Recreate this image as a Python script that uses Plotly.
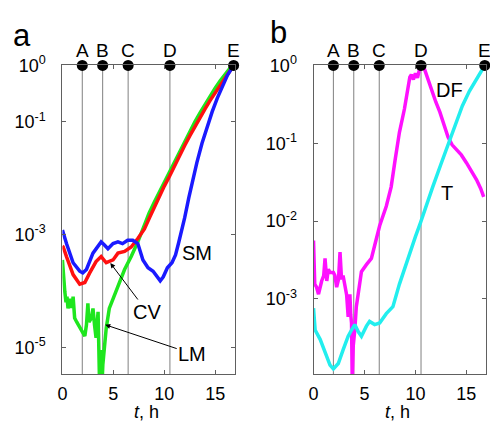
import numpy as np
import plotly.graph_objects as go

# ---- event markers ----
events = ["A", "B", "C", "D", "E"]
event_t = [1.95, 3.95, 6.45, 10.55, 16.8]

# ---- panel a (log10 of normalised signal) ----
sm_t = [0.0, 0.08, 0.4, 1.05, 1.7, 2.0, 2.36, 3.0, 3.5, 3.8, 4.1, 4.47, 4.97, 5.45, 5.9, 6.4, 6.9,
        7.4, 7.9, 8.4, 8.9, 9.2, 9.6, 9.9, 10.3, 10.75, 11.1, 11.4, 11.7, 12.0, 12.4, 12.8, 13.2,
        13.7, 14.2, 14.7, 15.2, 15.7, 16.2, 16.8]
sm_log = [-2.92, -2.96, -3.16, -3.50, -3.65, -3.68, -3.62, -3.33, -3.22, -3.13, -3.18, -3.25, -3.16,
          -3.13, -3.16, -3.10, -3.10, -3.16, -3.45, -3.59, -3.65, -3.72, -3.82, -3.75, -3.59, -3.50,
          -3.36, -3.15, -2.95, -2.70, -2.35, -2.00, -1.72, -1.38, -1.08, -0.82, -0.58, -0.36, -0.17, 0.0]

cv_t = [0.0, 0.08, 0.4, 1.05, 1.7, 2.2, 2.68, 3.3, 3.8, 4.3, 4.97, 5.45, 6.1, 6.75, 7.4, 8.05, 8.6,
        9.0, 9.5, 10.0, 10.5, 11.0, 11.5, 12.0, 12.5, 13.0, 13.5, 14.0, 14.5, 15.0, 15.5, 16.0, 16.4, 16.8]
cv_log = [-3.20, -3.22, -3.39, -3.71, -3.88, -3.85, -3.68, -3.48, -3.39, -3.50, -3.45, -3.33, -3.30,
          -3.22, -3.07, -2.90, -2.68, -2.52, -2.32, -2.14, -1.97, -1.78, -1.60, -1.42, -1.25, -1.08,
          -0.92, -0.77, -0.62, -0.48, -0.34, -0.20, -0.09, 0.0]

lm_t = [0.0, 0.1, 0.24, 0.35, 0.45, 0.55, 0.7, 0.85, 1.0, 1.05, 1.2, 1.4, 1.7, 2.0, 2.2, 2.36, 2.5,
        2.6, 2.85, 3.0, 3.15, 3.3, 3.5, 3.58, 3.64, 3.8, 3.9, 3.97, 4.14, 4.3, 4.6, 4.97, 5.45, 6.1,
        6.75, 7.4, 8.2, 8.5, 9.0, 9.5, 10.0, 10.5, 11.0, 11.5, 12.0, 12.5, 13.0, 13.5, 14.0, 14.5,
        15.0, 15.5, 16.0, 16.4, 16.8]
lm_log = [-3.45, -3.75, -4.02, -4.20, -4.10, -4.31, -4.14, -4.30, -4.20, -4.10, -4.48, -4.55, -4.66,
          -4.74, -4.80, -4.60, -4.22, -4.55, -4.48, -4.31, -4.60, -4.83, -4.37, -4.90, -5.60, -5.05,
          -5.60, -5.30, -4.94, -4.66, -4.31, -4.14, -3.88, -3.62, -3.39, -3.13, -2.76, -2.62, -2.43,
          -2.25, -2.07, -1.89, -1.70, -1.52, -1.34, -1.17, -1.00, -0.84, -0.69, -0.54, -0.40, -0.27,
          -0.14, -0.06, 0.0]

# ---- panel b ----
df_t = [0.0, 0.12, 0.3, 0.49, 0.8, 1.0, 1.13, 1.3, 1.45, 1.62, 1.95, 2.1, 2.27, 2.45, 2.6, 2.75, 2.9,
        3.08, 3.25, 3.4, 3.57, 3.65, 3.73, 3.8, 3.9, 4.05, 4.2, 4.38, 4.7, 5.19, 5.68, 6.16, 6.49,
        7.14, 7.62, 8.0, 8.43, 8.92, 9.25, 9.45, 9.6, 9.8, 10.0, 10.2, 10.4, 10.6, 10.9, 11.2, 11.6,
        12.0, 12.4, 12.8, 13.2, 13.6, 14.0, 14.5, 15.0, 15.5, 16.0, 16.4, 16.7]
df_log = [-2.25, -2.81, -2.85, -2.94, -2.77, -2.70, -2.48, -2.77, -2.62, -2.66, -2.66, -2.70, -2.85,
          -2.75, -2.40, -2.75, -2.70, -2.85, -2.95, -3.23, -2.94, -3.20, -3.31, -4.10, -3.60, -3.40,
          -3.10, -2.94, -2.65, -2.56, -2.48, -2.23, -2.06, -1.81, -1.56, -1.22, -0.86, -0.56, -0.31,
          -0.15, -0.12, -0.18, -0.10, -0.16, -0.05, -0.02, -0.05, -0.17, -0.33, -0.47, -0.60, -0.76,
          -0.92, -1.02, -1.08, -1.15, -1.25, -1.36, -1.47, -1.58, -1.69]

tt_t = [0.0, 0.16, 0.65, 1.13, 1.62, 1.95, 2.43, 2.92, 3.4, 3.73, 4.05, 4.38, 4.7, 5.19, 5.5, 6.0,
        6.49, 7.14, 7.79, 8.43, 9.0, 9.5, 10.0, 10.5, 11.0, 11.7, 12.5, 13.3, 14.0, 14.6, 15.3, 15.9,
        16.4, 16.8]
tt_log = [-3.12, -3.40, -3.52, -3.69, -3.85, -3.90, -3.83, -3.65, -3.48, -3.40, -3.33, -3.42, -3.48,
          -3.35, -3.29, -3.33, -3.31, -3.19, -3.10, -2.81, -2.58, -2.38, -2.20, -2.02, -1.82, -1.56,
          -1.27, -0.98, -0.74, -0.52, -0.33, -0.19, -0.08, 0.0]

yticks_a = [1e-5, 1e-3, 1e-1, 1]
yticktext_a = ["10<sup>-5</sup>", "10<sup>-3</sup>", "10<sup>-1</sup>", "10<sup>0</sup>"]
yticks_b = [1e-3, 1e-2, 1e-1, 1]
yticktext_b = ["10<sup>-3</sup>", "10<sup>-2</sup>", "10<sup>-1</sup>", "10<sup>0</sup>"]
xticks = [0, 5, 10, 15]

FONT = "Liberation Sans, Arial, sans-serif"
W, H = 490, 421
fig = go.Figure()

ydom = [1 - 373 / H, 1 - 55 / H]
xdom_a = [58 / W, 232 / W]
xdom_b = [311.7 / W, 485.7 / W]


def pw(v):
    return list(10 ** np.array(v, dtype=float))


LW = 3.5
# panel a
fig.add_trace(go.Scatter(x=lm_t, y=pw(lm_log), mode="lines", line=dict(color="#1ee61e", width=LW),
                         xaxis="x", yaxis="y"))
fig.add_trace(go.Scatter(x=cv_t, y=pw(cv_log), mode="lines", line=dict(color="#ff1010", width=LW),
                         xaxis="x", yaxis="y"))
fig.add_trace(go.Scatter(x=sm_t, y=pw(sm_log), mode="lines", line=dict(color="#1a1aff", width=LW),
                         xaxis="x", yaxis="y"))
# panel b
fig.add_trace(go.Scatter(x=df_t, y=pw(df_log), mode="lines", line=dict(color="#ff10ff", width=LW),
                         xaxis="x2", yaxis="y2"))
fig.add_trace(go.Scatter(x=tt_t, y=pw(tt_log), mode="lines", line=dict(color="#22eeee", width=LW),
                         xaxis="x2", yaxis="y2"))

shapes = []
annotations = []
for xa, ya in (("x", "y"), ("x2", "y2")):
    for t in event_t[:-1]:
        shapes.append(dict(type="line", xref=xa, yref=ya + " domain", x0=t, x1=t, y0=0, y1=1,
                           line=dict(color="#808080", width=1), layer="below"))
    fig.add_trace(go.Scatter(x=event_t, y=[1] * len(event_t), mode="markers", cliponaxis=False,
                             marker=dict(color="black", size=11), xaxis=xa, yaxis=ya))
    for lab, t in zip(events, event_t):
        annotations.append(dict(x=t, y=0, xref=xa, yref=ya, text=lab, showarrow=False,
                                xanchor="center", yanchor="middle", yshift=15,
                                font=dict(size=19, color="black", family=FONT)))

axis_common = dict(showline=True, linecolor="#606060", linewidth=1, mirror="ticks", ticks="inside",
                   ticklen=4, tickcolor="#606060", showgrid=False, zeroline=False,
                   tickfont=dict(size=18, color="black", family=FONT))

fig.update_layout(
    xaxis=dict(domain=xdom_a, range=[0, 16.9], tickvals=xticks, anchor="y",
               ticklabelstandoff=3, **axis_common),
    yaxis=dict(domain=ydom, type="log", range=[-5.48, 0], tickvals=yticks_a, ticktext=yticktext_a,
               anchor="x", ticklabelstandoff=12, **axis_common),
    xaxis2=dict(domain=xdom_b, range=[0, 16.9], tickvals=xticks, anchor="y2",
                ticklabelstandoff=3, **axis_common),
    yaxis2=dict(domain=ydom, type="log", range=[-3.97, 0], tickvals=yticks_b, ticktext=yticktext_b,
                anchor="x2", ticklabelstandoff=12, **axis_common),
)

lab_font = dict(size=20, color="black", family=FONT)
mid = dict(xanchor="center", yanchor="middle")
annotations += [
    dict(x=13.2, y=-3.32, xref="x", yref="y", text="SM", showarrow=False, font=lab_font, **mid),
    dict(x=4.7, y=-3.505, xref="x", yref="y", text="CV", showarrow=True, ax=37, ay=49,
         arrowhead=2, arrowsize=1, arrowwidth=1, arrowcolor="black", font=lab_font, **mid),
    dict(x=4.2, y=-4.6, xref="x", yref="y", text="LM", showarrow=True, ax=87, ay=29,
         arrowhead=2, arrowsize=1, arrowwidth=1, arrowcolor="black", font=lab_font, **mid),
    dict(x=13.3, y=-0.31, xref="x2", yref="y2", text="DF", showarrow=False, font=lab_font, **mid),
    dict(x=13.08, y=-1.64, xref="x2", yref="y2", text="T", showarrow=False, font=lab_font, **mid),
    dict(x=143 / W, y=1 - 411.5 / H, xref="paper", yref="paper", text="<i>t</i>, h", showarrow=False,
         font=dict(size=18, color="black", family=FONT), **mid),
    dict(x=397 / W, y=1 - 411.5 / H, xref="paper", yref="paper", text="<i>t</i>, h", showarrow=False,
         font=dict(size=18, color="black", family=FONT), **mid),
    dict(x=17 / W, y=1 - 24 / H, xref="paper", yref="paper", text="a", showarrow=False,
         font=dict(size=31, color="black", family=FONT), **mid),
    dict(x=276 / W, y=1 - 21 / H, xref="paper", yref="paper", text="b", showarrow=False,
         font=dict(size=31, color="black", family=FONT), **mid),
]

fig.update_layout(width=W, height=H, margin=dict(l=0, r=0, t=0, b=0), showlegend=False,
                  paper_bgcolor="white", plot_bgcolor="white", shapes=shapes,
                  annotations=annotations, font=dict(family=FONT))
fig.write_html("out.html")
